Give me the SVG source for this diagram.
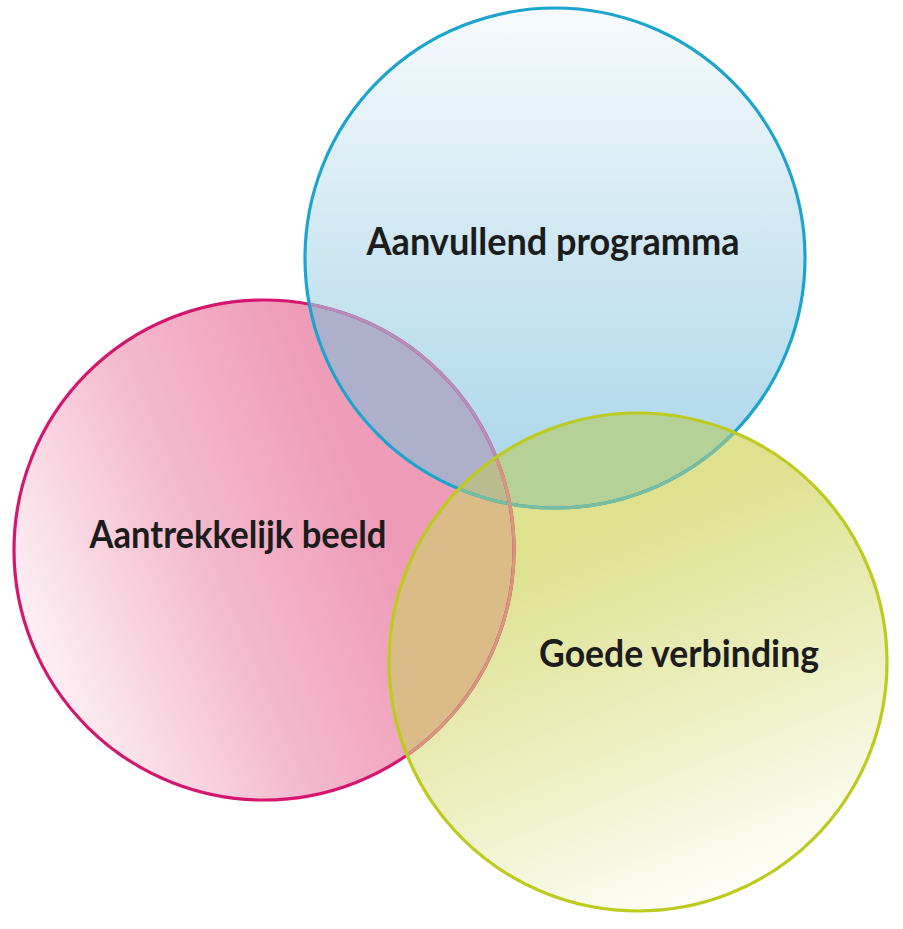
<svg xmlns="http://www.w3.org/2000/svg" width="903" height="929" viewBox="0 0 903 929">
  <style>
    .label { font-family: "Lato", "Open Sans", "Liberation Sans", sans-serif; font-weight: bold; font-size: 38px; fill: #1c1c1c; }
    .sw { fill: none; stroke-width: 3.2; }
  </style>
  <defs>
    <linearGradient id="gPink" x1="0" y1="0.72" x2="0.72" y2="0.42">
      <stop offset="0" stop-color="#FEF6F8"/>
      <stop offset="0.55" stop-color="#F4BACD"/>
      <stop offset="1" stop-color="#EF9CB8"/>
    </linearGradient>
    <linearGradient id="gBlue" x1="0" y1="0" x2="0" y2="1">
      <stop offset="0" stop-color="#F7FBFD"/>
      <stop offset="0.5" stop-color="#CDE6F1"/>
      <stop offset="1" stop-color="#A8D5EA"/>
    </linearGradient>
    <linearGradient id="gYellow" x1="0.38" y1="0.25" x2="0.68" y2="1">
      <stop offset="0" stop-color="#DEE18E"/>
      <stop offset="0.55" stop-color="#EEF0C6"/>
      <stop offset="1" stop-color="#FFFFFD"/>
    </linearGradient>
    <clipPath id="cPink"><circle cx="264" cy="550" r="250"/></clipPath>
    <clipPath id="cBlue"><circle cx="555" cy="258" r="250"/></clipPath>
    <clipPath id="cYellow"><circle cx="638" cy="662" r="249"/></clipPath>
  </defs>

  <g id="fills">
    <circle cx="264" cy="550" r="250" fill="url(#gPink)"/>
    <circle cx="555" cy="258" r="250" fill="url(#gBlue)"/>
    <circle cx="638" cy="662" r="249" fill="url(#gYellow)"/>
    <circle cx="555" cy="258" r="250" fill="#ADAFCB" clip-path="url(#cPink)"/>
    <circle cx="638" cy="662" r="249" fill="#B6D197" clip-path="url(#cBlue)"/>
    <circle cx="638" cy="662" r="249" fill="#D9BC87" clip-path="url(#cPink)"/>
    <g clip-path="url(#cBlue)">
      <circle cx="638" cy="662" r="249" fill="#BBBD90" clip-path="url(#cPink)"/>
    </g>
  </g>

  <g id="node-aantrekkelijk">
    <circle class="sw" cx="264" cy="550" r="250" stroke="#D4166E"/>
    <circle class="sw" cx="264" cy="550" r="250" stroke="#B78DBC" clip-path="url(#cBlue)"/>
    <text class="label" x="238" y="548" text-anchor="middle" textLength="297" lengthAdjust="spacingAndGlyphs">Aantrekkelijk beeld</text>
  </g>

  <g id="node-aanvullend">
    <circle class="sw" cx="555" cy="258" r="250" stroke="#1BA5CD"/>
    <text class="label" x="553" y="255" text-anchor="middle" textLength="373" lengthAdjust="spacingAndGlyphs">Aanvullend programma</text>
  </g>

  <g id="node-goede">
    <circle class="sw" cx="555" cy="258" r="250" stroke="#78BDA0" clip-path="url(#cYellow)"/>
    <circle class="sw" cx="264" cy="550" r="250" stroke="#D8967C" clip-path="url(#cYellow)"/>
    <circle class="sw" cx="638" cy="662" r="249" stroke="#BDCB1F"/>
    <text class="label" x="679" y="667" text-anchor="middle" textLength="280" lengthAdjust="spacingAndGlyphs">Goede verbinding</text>
  </g>

  <g id="connectors"></g>
</svg>
